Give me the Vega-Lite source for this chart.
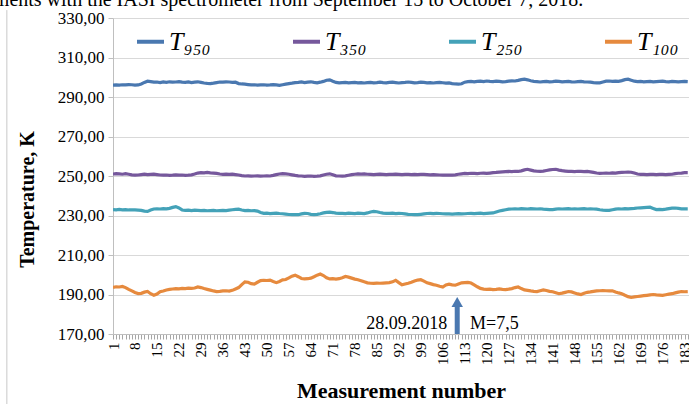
{
"$schema": "https://vega.github.io/schema/vega-lite/v6.json",
"width": 576, "height": 316,
"autosize": {"type": "none"},
"padding": {"left": 113, "top": 18, "right": 0, "bottom": 70},
"background": "white",
"config": {"view": {"stroke": null}, "font": "Liberation Serif"},
"datasets": {"temps": [
{"n":1,"T950":296.0,"T350":251.0,"T250":233.0,"T100":193.6},
{"n":2,"T950":296.1,"T350":251.2,"T250":232.9,"T100":193.9},
{"n":3,"T950":296.0,"T350":251.1,"T250":233.1,"T100":193.8},
{"n":4,"T950":296.2,"T350":250.9,"T250":232.9,"T100":194.1},
{"n":5,"T950":296.1,"T350":251.2,"T250":233.0,"T100":193.5},
{"n":6,"T950":296.3,"T350":250.9,"T250":232.8,"T100":192.6},
{"n":7,"T950":296.2,"T350":250.6,"T250":232.9,"T100":191.8},
{"n":8,"T950":296.0,"T350":250.4,"T250":232.8,"T100":191.0},
{"n":9,"T950":296.1,"T350":250.5,"T250":232.7,"T100":190.5},
{"n":10,"T950":296.6,"T350":250.7,"T250":232.6,"T100":190.6},
{"n":11,"T950":297.4,"T350":250.9,"T250":232.2,"T100":191.2},
{"n":12,"T950":298.0,"T350":250.7,"T250":232.1,"T100":191.5},
{"n":13,"T950":297.8,"T350":250.8,"T250":232.8,"T100":190.4},
{"n":14,"T950":297.5,"T350":250.9,"T250":233.3,"T100":189.6},
{"n":15,"T950":297.6,"T350":250.7,"T250":233.4,"T100":190.2},
{"n":16,"T950":297.3,"T350":250.5,"T250":233.3,"T100":191.4},
{"n":17,"T950":297.6,"T350":250.4,"T250":233.5,"T100":191.8},
{"n":18,"T950":297.4,"T350":250.5,"T250":233.4,"T100":192.3},
{"n":19,"T950":297.7,"T350":250.3,"T250":233.6,"T100":192.6},
{"n":20,"T950":297.5,"T350":250.4,"T250":234.1,"T100":192.8},
{"n":21,"T950":297.6,"T350":250.6,"T250":234.5,"T100":193.0},
{"n":22,"T950":297.8,"T350":250.4,"T250":233.8,"T100":192.9},
{"n":23,"T950":297.5,"T350":250.5,"T250":232.8,"T100":193.1},
{"n":24,"T950":297.4,"T350":250.3,"T250":232.6,"T100":193.0},
{"n":25,"T950":297.6,"T350":250.4,"T250":232.7,"T100":193.2},
{"n":26,"T950":297.3,"T350":250.6,"T250":232.5,"T100":193.1},
{"n":27,"T950":297.5,"T350":251.0,"T250":232.7,"T100":193.3},
{"n":28,"T950":297.7,"T350":251.5,"T250":232.6,"T100":193.8},
{"n":29,"T950":297.4,"T350":251.7,"T250":232.5,"T100":193.5},
{"n":30,"T950":297.1,"T350":251.6,"T250":232.6,"T100":193.0},
{"n":31,"T950":296.9,"T350":251.8,"T250":232.4,"T100":192.6},
{"n":32,"T950":296.8,"T350":251.6,"T250":232.5,"T100":192.2},
{"n":33,"T950":297.0,"T350":251.5,"T250":232.6,"T100":191.8},
{"n":34,"T950":297.3,"T350":251.3,"T250":232.4,"T100":191.5},
{"n":35,"T950":297.6,"T350":251.0,"T250":232.5,"T100":191.6},
{"n":36,"T950":297.5,"T350":250.8,"T250":232.6,"T100":191.8},
{"n":37,"T950":297.7,"T350":250.9,"T250":232.5,"T100":191.9},
{"n":38,"T950":297.6,"T350":250.8,"T250":232.7,"T100":191.7},
{"n":39,"T950":297.4,"T350":250.9,"T250":232.9,"T100":192.1},
{"n":40,"T950":297.5,"T350":250.7,"T250":233.1,"T100":192.8},
{"n":41,"T950":296.8,"T350":250.5,"T250":233.2,"T100":193.5},
{"n":42,"T950":296.6,"T350":250.2,"T250":232.8,"T100":195.0},
{"n":43,"T950":296.5,"T350":250.0,"T250":232.5,"T100":196.4},
{"n":44,"T950":296.3,"T350":250.1,"T250":232.6,"T100":196.2},
{"n":45,"T950":296.1,"T350":249.9,"T250":232.4,"T100":195.5},
{"n":46,"T950":296.2,"T350":250.0,"T250":232.5,"T100":195.3},
{"n":47,"T950":296.0,"T350":250.1,"T250":232.2,"T100":196.2},
{"n":48,"T950":296.1,"T350":249.9,"T250":231.5,"T100":197.0},
{"n":49,"T950":296.2,"T350":250.0,"T250":231.1,"T100":197.2},
{"n":50,"T950":296.0,"T350":250.1,"T250":231.2,"T100":197.1},
{"n":51,"T950":296.1,"T350":250.0,"T250":231.0,"T100":197.3},
{"n":52,"T950":296.3,"T350":250.3,"T250":231.1,"T100":196.6},
{"n":53,"T950":296.1,"T350":250.7,"T250":231.2,"T100":196.0},
{"n":54,"T950":295.9,"T350":251.0,"T250":231.0,"T100":196.6},
{"n":55,"T950":296.2,"T350":251.2,"T250":230.9,"T100":197.4},
{"n":56,"T950":296.5,"T350":251.1,"T250":230.7,"T100":197.6},
{"n":57,"T950":296.8,"T350":250.9,"T250":230.5,"T100":198.4},
{"n":58,"T950":297.0,"T350":250.6,"T250":230.4,"T100":199.3},
{"n":59,"T950":297.3,"T350":250.3,"T250":230.5,"T100":199.8},
{"n":60,"T950":297.4,"T350":250.1,"T250":230.4,"T100":199.0},
{"n":61,"T950":297.6,"T350":250.0,"T250":230.8,"T100":198.1},
{"n":62,"T950":297.3,"T350":249.8,"T250":231.1,"T100":197.9},
{"n":63,"T950":297.5,"T350":249.9,"T250":231.0,"T100":198.0},
{"n":64,"T950":297.7,"T350":250.0,"T250":230.6,"T100":198.3},
{"n":65,"T950":297.4,"T350":249.8,"T250":230.4,"T100":199.0},
{"n":66,"T950":297.2,"T350":249.9,"T250":230.6,"T100":199.8},
{"n":67,"T950":297.5,"T350":250.1,"T250":230.9,"T100":200.4},
{"n":68,"T950":297.9,"T350":250.5,"T250":231.3,"T100":199.6},
{"n":69,"T950":298.5,"T350":250.9,"T250":231.6,"T100":198.5},
{"n":70,"T950":298.7,"T350":251.1,"T250":231.7,"T100":197.9},
{"n":71,"T950":298.0,"T350":250.6,"T250":231.5,"T100":198.0},
{"n":72,"T950":297.4,"T350":250.1,"T250":231.2,"T100":197.8},
{"n":73,"T950":297.2,"T350":250.0,"T250":231.1,"T100":198.0},
{"n":74,"T950":297.3,"T350":249.9,"T250":231.1,"T100":198.5},
{"n":75,"T950":297.4,"T350":250.1,"T250":231.0,"T100":199.1},
{"n":76,"T950":297.2,"T350":250.4,"T250":231.2,"T100":198.8},
{"n":77,"T950":297.3,"T350":250.7,"T250":231.1,"T100":198.3},
{"n":78,"T950":297.4,"T350":250.9,"T250":231.0,"T100":197.8},
{"n":79,"T950":297.2,"T350":251.1,"T250":231.2,"T100":197.5},
{"n":80,"T950":297.3,"T350":251.0,"T250":231.1,"T100":197.0},
{"n":81,"T950":297.1,"T350":251.1,"T250":231.0,"T100":196.4},
{"n":82,"T950":297.3,"T350":250.9,"T250":231.3,"T100":195.9},
{"n":83,"T950":297.4,"T350":250.8,"T250":231.8,"T100":195.7},
{"n":84,"T950":297.2,"T350":250.7,"T250":232.1,"T100":195.6},
{"n":85,"T950":297.3,"T350":250.8,"T250":231.9,"T100":195.8},
{"n":86,"T950":297.5,"T350":250.9,"T250":231.5,"T100":195.7},
{"n":87,"T950":297.3,"T350":250.8,"T250":231.2,"T100":195.8},
{"n":88,"T950":297.2,"T350":250.7,"T250":231.1,"T100":195.9},
{"n":89,"T950":297.4,"T350":250.8,"T250":231.1,"T100":196.0},
{"n":90,"T950":297.5,"T350":250.8,"T250":231.2,"T100":196.4},
{"n":91,"T950":297.3,"T350":250.9,"T250":231.0,"T100":197.2},
{"n":92,"T950":297.1,"T350":250.8,"T250":231.1,"T100":196.0},
{"n":93,"T950":297.3,"T350":250.7,"T250":231.0,"T100":194.9},
{"n":94,"T950":297.4,"T350":250.8,"T250":230.8,"T100":195.3},
{"n":95,"T950":297.6,"T350":250.8,"T250":230.6,"T100":195.7},
{"n":96,"T950":297.4,"T350":250.7,"T250":230.5,"T100":196.2},
{"n":97,"T950":297.2,"T350":250.8,"T250":230.4,"T100":196.8},
{"n":98,"T950":297.3,"T350":250.7,"T250":230.4,"T100":197.3},
{"n":99,"T950":297.5,"T350":250.8,"T250":230.6,"T100":197.5},
{"n":100,"T950":297.4,"T350":250.8,"T250":230.8,"T100":196.8},
{"n":101,"T950":297.2,"T350":250.7,"T250":231.0,"T100":195.9},
{"n":102,"T950":297.3,"T350":250.6,"T250":231.1,"T100":195.5},
{"n":103,"T950":297.1,"T350":250.7,"T250":231.0,"T100":195.0},
{"n":104,"T950":297.3,"T350":250.6,"T250":231.1,"T100":194.7},
{"n":105,"T950":297.4,"T350":250.5,"T250":231.0,"T100":194.2},
{"n":106,"T950":297.2,"T350":250.4,"T250":230.9,"T100":193.8},
{"n":107,"T950":297.0,"T350":250.4,"T250":230.8,"T100":194.8},
{"n":108,"T950":297.1,"T350":250.5,"T250":230.8,"T100":195.2},
{"n":109,"T950":296.8,"T350":250.4,"T250":230.7,"T100":194.9},
{"n":110,"T950":296.6,"T350":250.6,"T250":230.8,"T100":194.7},
{"n":111,"T950":296.5,"T350":250.9,"T250":230.9,"T100":195.3},
{"n":112,"T950":296.7,"T350":251.1,"T250":230.8,"T100":195.9},
{"n":113,"T950":297.5,"T350":251.3,"T250":230.9,"T100":196.0},
{"n":114,"T950":297.8,"T350":251.2,"T250":231.0,"T100":196.1},
{"n":115,"T950":297.9,"T350":251.4,"T250":231.1,"T100":195.8},
{"n":116,"T950":297.7,"T350":251.3,"T250":231.0,"T100":194.9},
{"n":117,"T950":297.9,"T350":251.2,"T250":231.1,"T100":193.9},
{"n":118,"T950":298.0,"T350":251.4,"T250":231.2,"T100":193.1},
{"n":119,"T950":297.8,"T350":251.5,"T250":231.0,"T100":192.7},
{"n":120,"T950":298.1,"T350":251.3,"T250":231.1,"T100":192.6},
{"n":121,"T950":297.9,"T350":251.5,"T250":231.2,"T100":192.7},
{"n":122,"T950":297.8,"T350":251.7,"T250":231.3,"T100":192.5},
{"n":123,"T950":298.0,"T350":251.8,"T250":231.8,"T100":192.6},
{"n":124,"T950":297.9,"T350":252.0,"T250":232.3,"T100":192.8},
{"n":125,"T950":297.7,"T350":252.1,"T250":232.6,"T100":192.6},
{"n":126,"T950":297.8,"T350":252.2,"T250":232.9,"T100":192.5},
{"n":127,"T950":298.0,"T350":252.3,"T250":233.2,"T100":192.7},
{"n":128,"T950":298.2,"T350":252.2,"T250":233.3,"T100":193.0},
{"n":129,"T950":298.1,"T350":252.4,"T250":233.4,"T100":193.5},
{"n":130,"T950":298.4,"T350":252.3,"T250":233.3,"T100":193.8},
{"n":131,"T950":298.8,"T350":252.6,"T250":233.5,"T100":193.0},
{"n":132,"T950":299.0,"T350":253.1,"T250":233.4,"T100":192.3},
{"n":133,"T950":298.7,"T350":253.4,"T250":233.3,"T100":192.1},
{"n":134,"T950":298.2,"T350":253.0,"T250":233.5,"T100":191.8},
{"n":135,"T950":297.9,"T350":252.6,"T250":233.4,"T100":191.6},
{"n":136,"T950":297.8,"T350":252.4,"T250":233.3,"T100":191.5},
{"n":137,"T950":297.6,"T350":252.3,"T250":233.4,"T100":191.9},
{"n":138,"T950":297.8,"T350":252.5,"T250":233.2,"T100":192.3},
{"n":139,"T950":297.9,"T350":252.8,"T250":233.1,"T100":192.0},
{"n":140,"T950":297.7,"T350":253.1,"T250":233.0,"T100":191.6},
{"n":141,"T950":297.8,"T350":253.3,"T250":233.0,"T100":191.4},
{"n":142,"T950":298.0,"T350":253.4,"T250":233.2,"T100":190.9},
{"n":143,"T950":297.9,"T350":253.0,"T250":233.4,"T100":190.4},
{"n":144,"T950":297.7,"T350":252.7,"T250":233.3,"T100":190.7},
{"n":145,"T950":297.8,"T350":252.5,"T250":233.4,"T100":191.1},
{"n":146,"T950":297.9,"T350":252.3,"T250":233.5,"T100":191.5},
{"n":147,"T950":297.7,"T350":252.3,"T250":233.3,"T100":191.3},
{"n":148,"T950":297.6,"T350":252.2,"T250":233.4,"T100":190.8},
{"n":149,"T950":297.8,"T350":252.4,"T250":233.3,"T100":190.3},
{"n":150,"T950":297.9,"T350":252.3,"T250":233.4,"T100":190.0},
{"n":151,"T950":297.7,"T350":252.2,"T250":233.5,"T100":190.6},
{"n":152,"T950":297.6,"T350":252.3,"T250":233.3,"T100":191.1},
{"n":153,"T950":297.5,"T350":252.1,"T250":233.4,"T100":191.3},
{"n":154,"T950":297.3,"T350":251.8,"T250":233.3,"T100":191.6},
{"n":155,"T950":297.2,"T350":251.5,"T250":233.2,"T100":191.8},
{"n":156,"T950":297.2,"T350":251.3,"T250":232.9,"T100":191.9},
{"n":157,"T950":297.6,"T350":251.4,"T250":232.7,"T100":192.0},
{"n":158,"T950":298.0,"T350":251.5,"T250":232.6,"T100":191.9},
{"n":159,"T950":298.1,"T350":251.4,"T250":232.6,"T100":191.8},
{"n":160,"T950":297.9,"T350":251.6,"T250":232.9,"T100":191.9},
{"n":161,"T950":298.0,"T350":251.5,"T250":233.2,"T100":191.3},
{"n":162,"T950":297.9,"T350":251.7,"T250":233.4,"T100":190.8},
{"n":163,"T950":298.3,"T350":251.8,"T250":233.3,"T100":190.4},
{"n":164,"T950":298.8,"T350":251.9,"T250":233.5,"T100":189.6},
{"n":165,"T950":299.0,"T350":252.0,"T250":233.4,"T100":188.9},
{"n":166,"T950":298.5,"T350":251.9,"T250":233.5,"T100":188.5},
{"n":167,"T950":298.0,"T350":251.5,"T250":233.6,"T100":188.8},
{"n":168,"T950":297.8,"T350":251.0,"T250":233.8,"T100":189.0},
{"n":169,"T950":297.9,"T350":250.8,"T250":233.9,"T100":189.2},
{"n":170,"T950":297.7,"T350":250.8,"T250":234.0,"T100":189.4},
{"n":171,"T950":297.8,"T350":250.7,"T250":234.1,"T100":189.6},
{"n":172,"T950":297.9,"T350":250.8,"T250":234.2,"T100":189.8},
{"n":173,"T950":297.7,"T350":250.8,"T250":233.6,"T100":190.0},
{"n":174,"T950":297.8,"T350":250.7,"T250":233.0,"T100":189.8},
{"n":175,"T950":297.9,"T350":250.8,"T250":233.1,"T100":189.7},
{"n":176,"T950":298.0,"T350":250.8,"T250":233.0,"T100":189.6},
{"n":177,"T950":297.8,"T350":250.7,"T250":233.2,"T100":189.9},
{"n":178,"T950":297.7,"T350":250.8,"T250":233.5,"T100":190.2},
{"n":179,"T950":297.9,"T350":250.9,"T250":233.7,"T100":190.4},
{"n":180,"T950":297.8,"T350":251.2,"T250":233.8,"T100":190.8},
{"n":181,"T950":297.7,"T350":251.4,"T250":233.6,"T100":191.2},
{"n":182,"T950":297.8,"T350":251.5,"T250":233.4,"T100":191.5},
{"n":183,"T950":297.9,"T350":251.7,"T250":233.4,"T100":191.4},
{"n":184,"T950":297.8,"T350":251.7,"T250":233.4,"T100":191.5}
]},
"layer": [
{
"data": {"name": "temps"},
"transform": [{"fold": ["T950", "T350", "T250", "T100"], "as": ["series", "temp"]}],
"mark": {"type": "line", "strokeWidth": 3.2, "clip": true},
"encoding": {
"x": {"field": "n", "type": "quantitative",
 "scale": {"domain": [1, 184.4], "nice": false, "zero": false},
 "axis": {
  "values": [1,2,3,4,5,6,7,8,9,10,11,12,13,14,15,16,17,18,19,20,21,22,23,24,25,26,27,28,29,30,31,32,33,34,35,36,37,38,39,40,41,42,43,44,45,46,47,48,49,50,51,52,53,54,55,56,57,58,59,60,61,62,63,64,65,66,67,68,69,70,71,72,73,74,75,76,77,78,79,80,81,82,83,84,85,86,87,88,89,90,91,92,93,94,95,96,97,98,99,100,101,102,103,104,105,106,107,108,109,110,111,112,113,114,115,116,117,118,119,120,121,122,123,124,125,126,127,128,129,130,131,132,133,134,135,136,137,138,139,140,141,142,143,144,145,146,147,148,149,150,151,152,153,154,155,156,157,158,159,160,161,162,163,164,165,166,167,168,169,170,171,172,173,174,175,176,177,178,179,180,181,182,183,184],
  "tickCount": 400, "format": "d",
  "labelExpr": "(datum.value - 1) % 7 == 0 ? datum.label : ''",
  "labelAngle": -90, "labelOverlap": false, "labelFontSize": 15, "labelColor": "black", "labelPadding": 3,
  "labelFont": "Liberation Serif", "labelFlush": false,
  "tickColor": "#a6a6a6", "tickSize": 5, "domainColor": "#bfbfbf", "grid": false,
  "title": "Measurement number", "titleFontSize": 22, "titleFontWeight": "bold", "titleColor": "black",
  "titleFont": "Liberation Serif", "titleY": 46, "titleBaseline": "top"
 }},
"y": {"field": "temp", "type": "quantitative",
 "scale": {"domain": [170, 330], "nice": false, "zero": false},
 "axis": {
  "values": [170, 190, 210, 230, 250, 270, 290, 310, 330],
  "tickCount": 40,
  "labelOverlap": false,
  "labelExpr": "replace(format(datum.value, '.2f'), '.', ',')",
  "gridColor": "#d9d9d9", "domainColor": "#bfbfbf", "tickColor": "#bfbfbf", "tickSize": 5,
  "labelFontSize": 17, "labelColor": "black", "labelPadding": 4, "labelFont": "Liberation Serif",
  "title": "Temperature, K", "titleFontSize": 20, "titleFontWeight": "bold", "titleColor": "black",
  "titleFont": "Liberation Serif", "titleX": -76, "titleY": 181, "titleAngle": -90
 }},
"color": {"field": "series", "type": "nominal", "sort": ["T950", "T350", "T250", "T100"],
 "scale": {"domain": ["T950", "T350", "T250", "T100"], "range": ["#4a78b0", "#76589c", "#44a2b8", "#e68a3e"]},
 "legend": {
  "orient": "none", "direction": "horizontal", "legendX": 22, "legendY": 8, "title": null, "padding": 0,
  "symbolType": "stroke", "symbolSize": 729, "symbolStrokeWidth": 4,
  "labelFontSize": 26, "labelFontStyle": "italic", "labelFont": "Liberation Serif", "labelColor": "black",
  "labelOffset": 3, "columnPadding": 74,
  "labelExpr": "datum.label == 'T950' ? 'T₉₅₀' : datum.label == 'T350' ? 'T₃₅₀' : datum.label == 'T250' ? 'T₂₅₀' : 'T₁₀₀'"
 }}
}
},
{
"data": {"values": [{"n": -32.8, "temp": 334, "temp2": 130}]},
"mark": {"type": "rule", "strokeWidth": 1, "color": "#c8c8c8", "clip": false},
"encoding": {
 "x": {"field": "n", "type": "quantitative"},
 "y": {"field": "temp", "type": "quantitative"},
 "y2": {"field": "temp2"}
}
},
{
"data": {"values": [{"n": 150.7, "temp": 336.1, "label": "temperature measurements with the IASI spectrometer from September 15 to October 7, 2018."}]},
"mark": {"type": "text", "align": "right", "baseline": "alphabetic", "fontSize": 20, "font": "Liberation Serif", "color": "black", "clip": false},
"encoding": {
 "x": {"field": "n", "type": "quantitative"},
 "y": {"field": "temp", "type": "quantitative"},
 "text": {"field": "label"}
}
},
{
"data": {"values": [{"n": 110.6, "temp": 170, "temp2": 184.5}]},
"mark": {"type": "rule", "strokeWidth": 5, "color": "#4a78b0"},
"encoding": {
 "x": {"field": "n", "type": "quantitative"},
 "y": {"field": "temp", "type": "quantitative"},
 "y2": {"field": "temp2"}
}
},
{
"data": {"values": [{"n": 110.6, "temp": 186.2}]},
"mark": {"type": "point", "shape": "triangle-up", "filled": true, "size": 130, "color": "#4a78b0", "opacity": 1},
"encoding": {
 "x": {"field": "n", "type": "quantitative"},
 "y": {"field": "temp", "type": "quantitative"}
}
},
{
"data": {"values": [{"n": 107.4, "temp": 172.4, "label": "28.09.2018"}]},
"mark": {"type": "text", "align": "right", "baseline": "alphabetic", "fontSize": 18, "font": "Liberation Serif", "color": "black"},
"encoding": {
 "x": {"field": "n", "type": "quantitative"},
 "y": {"field": "temp", "type": "quantitative"},
 "text": {"field": "label"}
}
},
{
"data": {"values": [{"n": 114.7, "temp": 172.4, "label": "M=7,5"}]},
"mark": {"type": "text", "align": "left", "baseline": "alphabetic", "fontSize": 18, "font": "Liberation Serif", "color": "black"},
"encoding": {
 "x": {"field": "n", "type": "quantitative"},
 "y": {"field": "temp", "type": "quantitative"},
 "text": {"field": "label"}
}
}
]
}
